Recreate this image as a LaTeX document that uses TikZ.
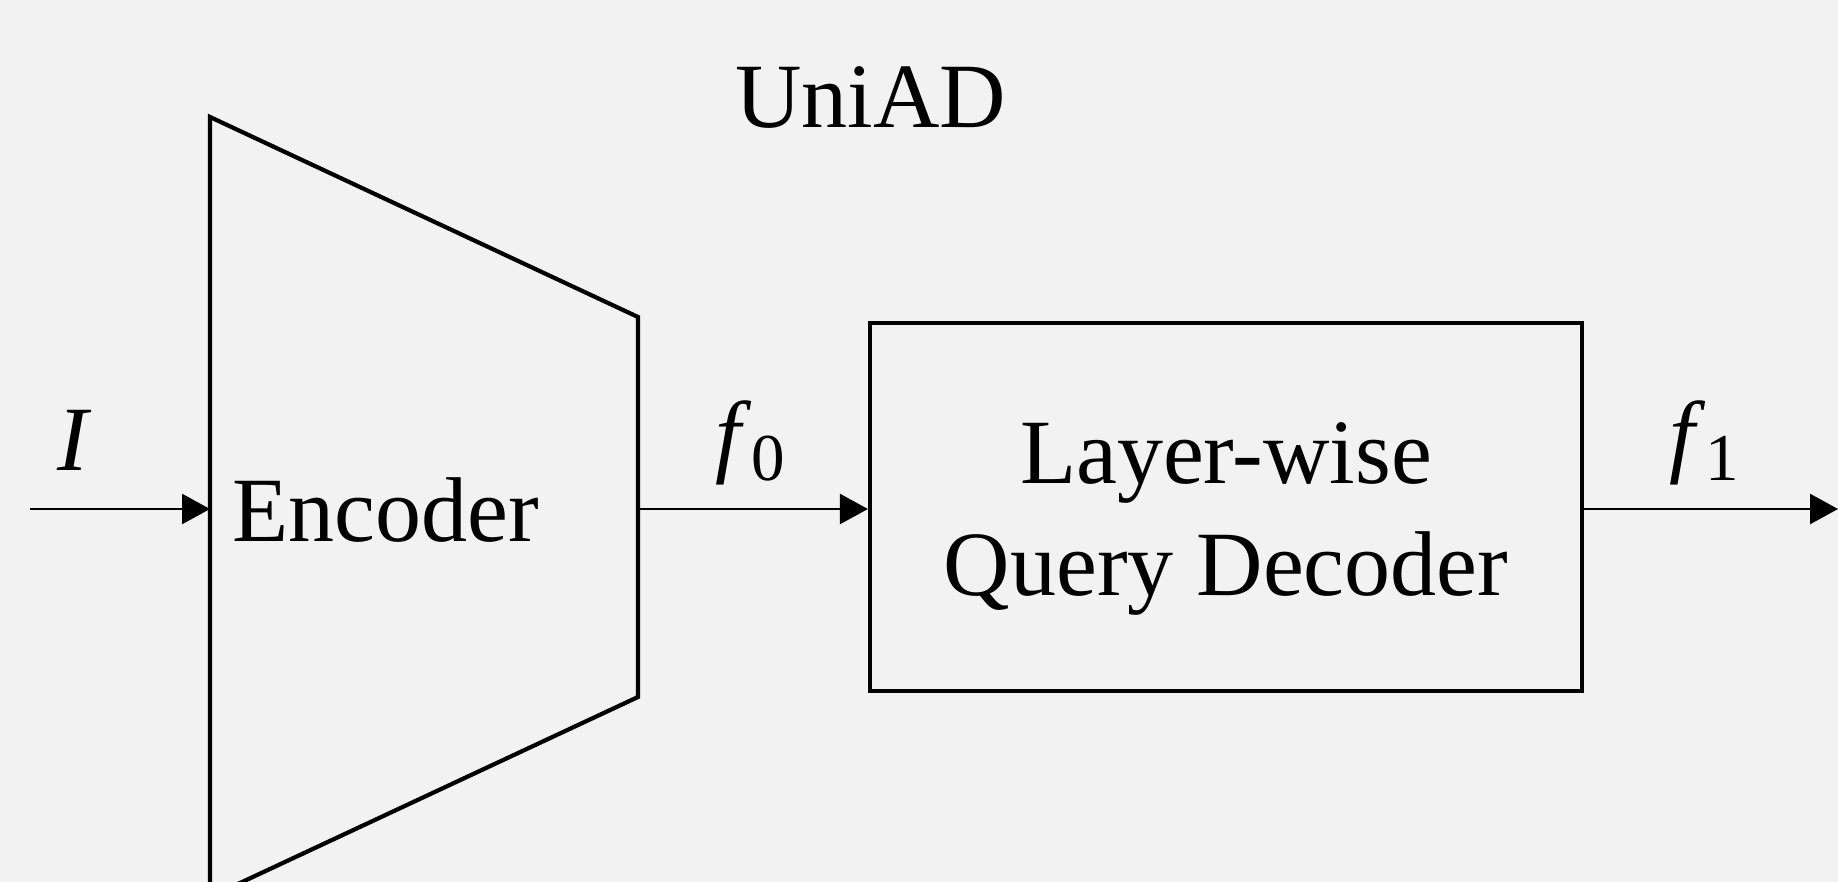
\documentclass[tikz,border=0pt]{standalone}
\usepackage{fontspec}
\setmainfont{Liberation Serif}
\usetikzlibrary{arrows.meta}
\definecolor{bgcol}{HTML}{F2F2F2}
\tikzset{
  txt/.style={inner sep=0pt, font=\fontsize{92}{112}\selectfont},
  shape line/.style={draw=black, line width=4.2pt, line join=miter},
  arr/.style={draw=black, line width=2.6pt, -{Triangle[length=28pt,width=30pt]}},
}
\newcommand{\sub}[1]{\raisebox{-15pt}{\fontsize{67}{67}\selectfont #1}}
\begin{document}
\begin{tikzpicture}[x=1pt,y=-1pt]
  \fill[bgcol] (0,0) rectangle (1838,882);
  \useasboundingbox (0,0) rectangle (1838,882);
  % title
  \node[txt, anchor=base] (title) at (871,128) {UniAD};
  % encoder trapezoid
  \coordinate (tl) at (210,117);
  \coordinate (tr) at (638,317);
  \coordinate (br) at (638,697);
  \coordinate (bl) at (210,897);
  \draw[shape line] (bl) -- (tl) -- (tr) -- (br) -- (bl);
  \node[txt, anchor=base west] (enc) at (232,541) {Encoder};
  \coordinate (encL) at (210,509);
  \coordinate (encR) at (638,509);
  % decoder box
  \node[shape line, minimum width=712pt, minimum height=368pt, inner sep=0pt] (dec) at (1226,507) {};
  \node[txt, align=center] (dectext) at (1226,519) {Layer-wise\\Query Decoder};
  % input / output
  \coordinate (in) at (30,509);
  \coordinate (out) at (1838,509);
  \draw[arr] (in) -- (encL);
  \draw[arr] (encR) -- (encR -| dec.west);
  \draw[arr] (encR -| dec.east) -- (out);
  % labels
  \node[txt, anchor=base] (lI) at (75,470) {\textit{I}};
  \node[txt, anchor=base west] (lf0) at (715,465) {\textit{f}\sub{0}};
  \node[txt, anchor=base west] (lf1) at (1669,465) {\textit{f}\sub{1}};
\end{tikzpicture}
\end{document}
